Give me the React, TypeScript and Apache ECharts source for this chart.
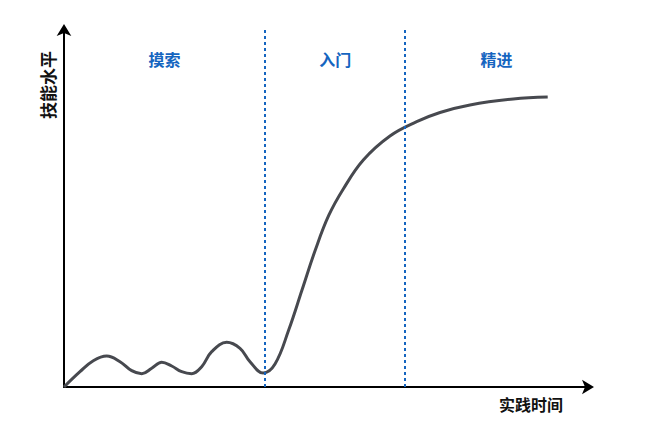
import React, { useEffect, useRef } from "react";
import * as echarts from "echarts";

// practice time (0-100) vs skill level (0-100)
const timeValues = [
  0, 3.05, 5.59, 8.15, 10.69, 12.92, 14.83, 16.74, 18.65, 20.55, 22.46, 24.37,
  26.28, 28.19, 31.05, 33.59, 35.5, 38.0, 40.27, 42.88, 45.42, 47.96, 50.52,
  53.3, 57.12, 62.21, 67.31, 71.76, 77.48, 85.74, 92.31,
];
const skillValues = [
  0, 4.29, 7.37, 8.68, 7.09, 4.57, 3.73, 5.24, 6.92, 5.88, 4.29, 3.73,
  5.69, 9.89, 12.52, 10.84, 7.09, 3.92, 6.44, 15.97, 27.17, 38.38, 48.04,
  55.46, 63.59, 70.31, 74.31, 76.89, 78.99, 80.67, 81.23,
];
const stageNames = ["摸索", "入门", "精进"];
const stageBounds = [0, 38.4, 65.1, 100];
const xAxisName = "实践时间";
const yAxisName = "技能水平";

export default function App() {
  const ref = useRef<HTMLDivElement>(null);
  useEffect(() => {
    if (!ref.current) return;
    const chart = echarts.init(ref.current, undefined, { renderer: "svg" });
    const font = '"Noto Sans CJK SC", "Noto Sans", sans-serif';
    const blue = "#1565c0";
    const axisLine = {
      show: true,
      symbol: ["none", "arrow"],
      symbolSize: [11, 12],
      symbolOffset: [0, 6],
      lineStyle: { color: "#000", width: 2 },
    };
    chart.setOption({
      animation: false,
      grid: { left: 64, right: 61, top: 30, bottom: 43, containLabel: false },
      xAxis: {
        type: "value",
        min: 0,
        max: 100,
        axisLine,
        axisTick: { show: false },
        axisLabel: { show: false },
        splitLine: { show: false },
      },
      yAxis: {
        type: "value",
        min: 0,
        max: 100,
        axisLine,
        axisTick: { show: false },
        axisLabel: { show: false },
        splitLine: { show: false },
      },
      graphic: [
        {
          type: "text",
          x: 47,
          y: 85,
          rotation: Math.PI / 2,
          style: {
            text: yAxisName,
            font: `bold 17px ${font}`,
            fill: "#111",
            textAlign: "center",
            textVerticalAlign: "middle",
          },
        },
        {
          type: "text",
          x: 531,
          y: 404,
          style: {
            text: xAxisName,
            font: `bold 16px ${font}`,
            fill: "#111",
            textAlign: "center",
            textVerticalAlign: "middle",
          },
        },
      ],
      series: [
        {
          type: "line",
          data: timeValues.map((t, i) => [t, skillValues[i]]),
          smooth: 0.4,
          showSymbol: false,
          symbol: "none",
          lineStyle: { color: "#47494f", width: 3 },
          markLine: {
            silent: true,
            symbol: "none",
            label: { show: false },
            lineStyle: { color: blue, width: 2, type: [3, 3] },
            data: stageBounds.slice(1, 3).map((b) => ({ xAxis: b })),
          },
          markArea: {
            silent: true,
            itemStyle: { color: "transparent" },
            label: {
              show: true,
              position: "insideTop",
              distance: 21,
              color: blue,
              fontFamily: font,
              fontWeight: "bold",
              fontSize: 16,
            },
            data: stageNames.map((n, i) => [
              { name: n, xAxis: stageBounds[i] },
              { xAxis: stageBounds[i + 1] },
            ]),
          },
        },
      ],
    });
    return () => chart.dispose();
  }, []);
  return (
    <div
      ref={ref}
      style={{ position: "absolute", left: 0, top: 0, width: 649, height: 430 }}
    />
  );
}
